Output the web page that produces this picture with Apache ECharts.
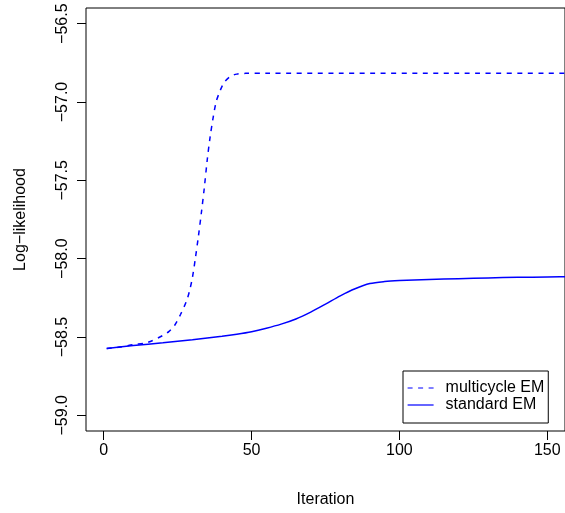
<!DOCTYPE html>
<html>
<head>
<meta charset="utf-8">
<script src="https://cdn.jsdelivr.net/npm/echarts@6/dist/echarts.min.js"></script>
<style>
  html, body { margin: 0; padding: 0; background: #fff; }
  #mychart { width: 565px; height: 513px; }
</style>
</head>
<body>
<div id="mychart"></div>
<script>
"use strict";
// values
const standardIter = [1, 10, 20, 30, 40, 45, 50, 55, 60, 65, 70, 75, 80, 85, 90, 95, 100, 110, 120, 130, 140, 150, 160];
const standardLL = [-58.573, -58.555, -58.537, -58.517, -58.495, -58.482, -58.466, -58.444, -58.418, -58.385, -58.341, -58.290,
    -58.237, -58.192, -58.159, -58.146, -58.140, -58.133, -58.128, -58.123, -58.119, -58.117, -58.115];
const multiIter = [1, 5, 10, 15, 20, 22, 24, 26, 28, 29, 30, 31, 32, 33, 34, 35, 36, 37, 38, 39, 40, 41, 43, 45, 48, 55, 80, 120, 160];
const multiLL = [-58.573, -58.566, -58.549, -58.534, -58.490, -58.466, -58.425, -58.355, -58.270, -58.207, -58.120, -57.996,
    -57.860, -57.710, -57.550, -57.370, -57.220, -57.100, -57.000, -56.945, -56.900, -56.868, -56.835, -56.822, -56.817,
    -56.816, -56.816, -56.816, -56.816];
const xTicks = [0, 50, 100, 150];
const yTicks = [-59.0, -58.5, -58.0, -57.5, -57.0, -56.5];

function pairs(xs, ys) {
    return xs.map((x, i) => [x, ys[i]]);
}

const font = 'Liberation Sans';
const chart = echarts.init(document.getElementById('mychart'));
const option = {
    backgroundColor: '#fff',
    animation: false,
    textStyle: { fontFamily: font },
    grid: {
        left: 86,
        top: 8,
        right: -5,
        bottom: 80,
        show: true,
        borderColor: '#000',
        borderWidth: 1
    },
    legend: {
        orient: 'vertical',
        left: 403,
        top: 371,
        data: ['multicycle EM', 'standard EM'],
        itemWidth: 26,
        itemHeight: 16,
        itemGap: 1,
        padding: [9, 4, 10, 4],
        borderColor: '#000',
        borderWidth: 1,
        borderRadius: 0,
        // hide the symbol, keep the line sample
        itemStyle: { opacity: 0 },
        lineStyle: { width: 1.2 },
        textStyle: {
            fontFamily: font,
            fontSize: 16,
            lineHeight: 16,
            color: '#000',
            padding: [0, 0, 0, 7]
        }
    },
    xAxis: {
        type: 'value',
        min: -6,
        max: 156,
        name: 'Iteration',
        nameLocation: 'middle',
        nameGap: 61,
        nameTextStyle: { fontFamily: font, fontSize: 16, color: '#000' },
        splitLine: { show: false },
        axisLine: { show: false, onZero: false },
        axisTick: {
            show: true,
            length: 9,
            customValues: xTicks,
            lineStyle: { color: '#000' }
        },
        axisLabel: {
            customValues: xTicks,
            margin: 12,
            fontFamily: font,
            fontSize: 16,
            color: '#000'
        }
    },
    yAxis: {
        type: 'value',
        min: -59.1,
        max: -56.4,
        name: 'Log\u2212likelihood',
        nameLocation: 'middle',
        nameGap: 57,
        nameTextStyle: { fontFamily: font, fontSize: 16, color: '#000' },
        splitLine: { show: false },
        axisLine: { show: false, onZero: false },
        axisTick: {
            show: true,
            length: 9,
            customValues: yTicks,
            lineStyle: { color: '#000' }
        },
        axisLabel: {
            customValues: yTicks,
            rotate: 90,
            margin: 15,
            fontFamily: font,
            fontSize: 16,
            color: '#000',
            formatter: v => v.toFixed(1).replace('-', '\u2212')
        }
    },
    series: [
        {
            name: 'standard EM',
            type: 'line',
            data: pairs(standardIter, standardLL),
            smooth: 0.3,
            symbol: 'none',
            lineStyle: { color: '#0000ff', width: 1.5 },
            itemStyle: { color: '#0000ff' }
        },
        {
            name: 'multicycle EM',
            type: 'line',
            data: pairs(multiIter, multiLL),
            smooth: 0.3,
            symbol: 'none',
            lineStyle: { color: '#0000ff', width: 1.5, type: [5, 5.5] },
            itemStyle: { color: '#0000ff' }
        }
    ]
};
chart.setOption(option);
</script>
</body>
</html>
